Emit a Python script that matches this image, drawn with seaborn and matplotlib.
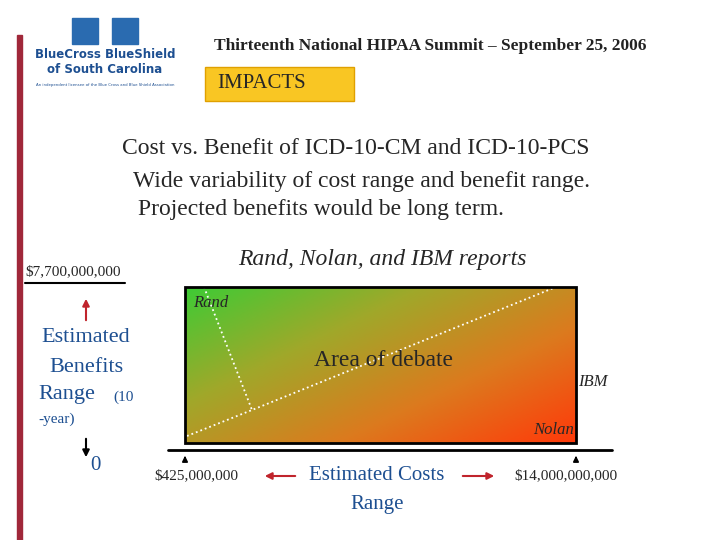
import numpy as np
import matplotlib
matplotlib.use("Agg")
import matplotlib.pyplot as plt
import seaborn as sns
from matplotlib.colors import LinearSegmentedColormap

sns.set_theme(style="white")
plt.rcParams['font.family'] = ['Liberation Serif', 'DejaVu Serif']

header = "Thirteenth National HIPAA Summit – September 25, 2006"
section = "IMPACTS"
title_lines = ["Cost vs. Benefit of ICD-10-CM and ICD-10-PCS",
               "Wide variability of cost range and benefit range.",
               "Projected benefits would be long term."]
sources = ["Rand", "IBM", "Nolan"]
benefit_max = "$7,700,000,000"
benefit_min = "0"
cost_min = "$425,000,000"
cost_max = "$14,000,000,000"

fig = plt.figure(figsize=(7.2, 5.4), dpi=100)
ax = fig.add_axes([0, 0, 1, 1])
ax.set_xlim(0, 720); ax.set_ylim(540, 0); ax.axis('off')

ax.add_patch(plt.Rectangle((17, 35), 5, 505, color='#a0283a'))
ax.text(105, 62, "BlueCross BlueShield\nof South Carolina", ha='center', va='center',
        fontsize=8.5, color='#1d4f91', weight='bold', family=['DejaVu Sans'])
ax.text(105, 85, "An independent licensee of the Blue Cross and Blue Shield Association",
        ha='center', va='center', fontsize=2.8, color='#1d4f91', family=['DejaVu Sans'])
ax.add_patch(plt.Rectangle((72, 18), 26, 26, color='#2a6bb0'))
ax.add_patch(plt.Rectangle((112, 18), 26, 26, color='#2a6bb0'))

ax.text(430, 46, header, ha='center', va='center', fontsize=12.5, weight='bold', color='#222')
ax.add_patch(plt.Rectangle((205, 67), 149, 34, facecolor='#f9c623', edgecolor='#e0a000'))
ax.text(262, 84, section, ha='center', va='center', fontsize=15)

ax.text(122, 148, title_lines[0], ha='left', va='center', fontsize=17)
ax.text(133, 182, title_lines[1], ha='left', va='center', fontsize=17)
ax.text(138, 210, title_lines[2], ha='left', va='center', fontsize=17)

ax.text(382, 260, "Rand, Nolan, and IBM reports", ha='center', va='center',
        fontsize=17, style='italic')

x0, x1, y0, y1 = 185, 576, 287, 443
xx, yy = np.meshgrid(np.linspace(0, 1, 200), np.linspace(0, 1, 100))
t = np.clip(0.55 * xx + 0.45 * yy, 0, 1)
cmap = LinearSegmentedColormap.from_list('g', ['#3ecb35', '#a0a82a', '#dc7a1e', '#ff3a0a'])
ax.imshow(t, cmap=cmap, extent=(x0, x1, y1, y0), aspect='auto', zorder=1)
ax.add_patch(plt.Rectangle((x0, y0), x1 - x0, y1 - y0, fill=False, edgecolor='black', lw=2, zorder=3))
ax.plot([204, 252], [287, 410], ':', color='white', lw=1.3, zorder=2)
ax.plot([187, 252, 556], [436, 410, 287], ':', color='white', lw=1.3, zorder=2)
ax.text(384, 361, "Area of debate", ha='center', va='center', fontsize=17, zorder=4)
ax.text(193, 303, sources[0], ha='left', va='center', fontsize=12, style='italic', zorder=4)
ax.text(578, 382, sources[1], ha='left', va='center', fontsize=12, style='italic', zorder=4)
ax.text(574, 430, sources[2], ha='right', va='center', fontsize=12, style='italic', zorder=4)

ax.plot([168, 612], [450, 450], color='black', lw=2)
ax.plot([25, 125], [283, 283], color='black', lw=1.5)
ax.text(25, 272, benefit_max, ha='left', va='center', fontsize=11)
for xa in (185, 576):
    ax.annotate('', xy=(xa, 453), xytext=(xa, 462),
                arrowprops=dict(arrowstyle='-|>', color='black', lw=1.2, mutation_scale=8))

ax.annotate('', xy=(86, 296), xytext=(86, 323),
            arrowprops=dict(arrowstyle='-|>', color='#c0242c', lw=1.5, mutation_scale=10))
ax.text(86, 338, "Estimated", ha='center', va='center', fontsize=16, color='#1d4f91')
ax.text(86, 367, "Benefits", ha='center', va='center', fontsize=16, color='#1d4f91')
ax.text(38, 395, "Range", ha='left', va='center', fontsize=16, color='#1d4f91')
ax.text(113, 397, "(10", ha='left', va='center', fontsize=11, color='#1d4f91')
ax.text(38, 419, "-year)", ha='left', va='center', fontsize=11, color='#1d4f91')
ax.annotate('', xy=(86, 460), xytext=(86, 436),
            arrowprops=dict(arrowstyle='-|>', color='black', lw=1.5, mutation_scale=10))
ax.text(95, 465, benefit_min, ha='center', va='center', fontsize=15, color='#1d4f91')

ax.text(196, 476, cost_min, ha='center', va='center', fontsize=11)
ax.text(566, 476, cost_max, ha='center', va='center', fontsize=11)
ax.text(377, 476, "Estimated Costs", ha='center', va='center', fontsize=15, color='#1d4f91')
ax.text(377, 504, "Range", ha='center', va='center', fontsize=15, color='#1d4f91')
ax.annotate('', xy=(262, 476), xytext=(298, 476),
            arrowprops=dict(arrowstyle='-|>', color='#c0242c', lw=1.5, mutation_scale=10))
ax.annotate('', xy=(497, 476), xytext=(460, 476),
            arrowprops=dict(arrowstyle='-|>', color='#c0242c', lw=1.5, mutation_scale=10))

fig.savefig("out.png", dpi=100)
